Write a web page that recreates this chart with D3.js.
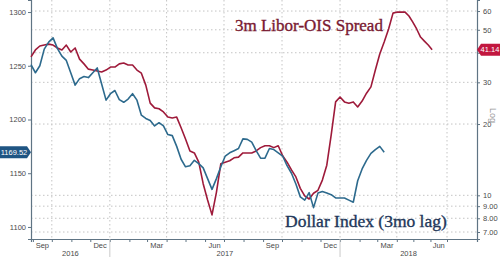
<!DOCTYPE html>
<html>
<head>
<meta charset="utf-8">
<script src="https://cdnjs.cloudflare.com/ajax/libs/d3/7.8.5/d3.min.js"></script>
<style>
    html, body { margin: 0; padding: 0; background: #ffffff; }
    svg { display: block; }
</style>
</head>
<body>
<div id="chart"></div>
<script>
// weekly readings, first week starts 29 Aug 2016
var startDate = new Date(2016, 7, 29);

// Bloomberg dollar index, left axis
var dollarIndex = [
    1251, 1243.5, 1250, 1265.5, 1272, 1276, 1266, 1259, 1255, 1243.5,
    1232, 1238, 1240, 1239, 1243.5, 1248, 1233, 1218, 1224, 1227,
    1218.5, 1216, 1219, 1224, 1218, 1204, 1201, 1199, 1194, 1197,
    1194, 1186, 1185, 1175, 1163, 1156, 1157, 1162, 1159, 1155,
    1145, 1135, 1145, 1156, 1166, 1169, 1171, 1173, 1182, 1181.5,
    1179, 1171, 1164, 1164, 1173, 1172, 1169, 1166, 1157, 1150,
    1140, 1128, 1125, 1132, 1118, 1131.5, 1133, 1131.5, 1130, 1127,
    1127, 1127, 1125, 1123, 1143, 1154, 1162, 1168.5, 1172, 1175,
    1169.52
];

// 3m Libor-OIS spread (bp), right log axis
var liborOis = [
    38.4, 41.1, 42.7, 43.1, 43.5, 43.1, 41.9, 41.1, 43.1, 40.3,
    41.9, 37.6, 35.9, 34.1, 33.8, 33.5, 33.2, 33.8, 34.8, 34.8,
    35.9, 36.2, 35.5, 35.5, 33.8, 32.8, 29.2, 24.5, 23.4, 23.2,
    22.5, 21.4, 21.2, 21.4, 19.3, 17.3, 15.4, 15.1, 13.8, 11.2,
    9.56, 8.27, 10.3, 13.6, 13.8, 14.0, 14.4, 14.5, 15.1, 15.1,
    15.1, 15.4, 15.9, 16.2, 16.2, 15.9, 16.2, 14.7, 13.8, 12.8,
    11.96, 10.7, 9.95, 9.65, 10.2, 10.5, 11.6, 13.4, 18.0, 24.8,
    26.0, 24.8, 24.5, 24.8, 23.6, 25.0, 27.0, 28.7, 33.8, 39.5,
    44.4, 50.4, 58.8, 59.4, 59.4, 59.4, 57.2, 53.9, 50.4, 46.6,
    44.8, 43.1, 41.14
];

var leftTicks = [1100, 1150, 1200, 1250, 1300];
var rightTicks = [7, 8, 9, 10, 20, 30, 40, 50, 60];
var rightTickLabels = ["7.00", "8.00", "9.00", "10", "20", "30", "", "50", "60"];
var monthLabels = ["Sep", "Dec", "Mar", "Jun", "Sep", "Dec", "Mar", "Jun"];
var yearLabels = ["2016", "2017", "2018"];

var width = 500, height = 257;
var plotLeft = 31, plotRight = 477, plotTop = 0, plotBottom = 239;

var redColor = "#9e1a3a",
    blueColor = "#2d6a8d";

var svg = d3.select("#chart")
    .append("svg")
    .attr("width", width)
    .attr("height", height);

// the last quarter of the source chart is squeezed a little
var x = d3.scaleTime()
    .domain([startDate, new Date(2018, 3, 1), new Date(2018, 6, 1), new Date(2018, 7, 25)])
    .range([plotLeft, 396.8, 447, plotRight]);

var yLeft = d3.scaleLinear().domain([1088.8, 1311.2]).range([plotBottom, plotTop]);
var yRight = d3.scaleLog().domain([6.54, 66.8]).range([plotBottom, plotTop]);

function weekDate(i) {
    return d3.timeDay.offset(startDate, i * 7);
}

// grid
var gridMonths = d3.timeMonth.range(new Date(2016, 9, 1), new Date(2018, 7, 1), 3);

svg.append("g")
    .selectAll("line")
    .data(rightTicks)
    .enter().append("line")
    .attr("x1", plotLeft).attr("x2", plotRight)
    .attr("y1", d => yRight(d)).attr("y2", d => yRight(d))
    .attr("stroke", "#c4c4c4")
    .attr("stroke-dasharray", "1.5,2.5");

svg.append("g")
    .selectAll("line")
    .data(gridMonths)
    .enter().append("line")
    .attr("x1", d => x(d)).attr("x2", d => x(d))
    .attr("y1", plotTop).attr("y2", plotBottom)
    .attr("stroke", "#c4c4c4")
    .attr("stroke-dasharray", "1.5,2.5");

// axes
var fontFamily = "Liberation Sans, Arial, sans-serif";

var leftAxis = svg.append("g")
    .attr("transform", "translate(" + plotLeft + ",0)")
    .call(d3.axisLeft(yLeft).tickValues(leftTicks).tickSize(3).tickPadding(2).tickFormat(d3.format("d")));

var rightAxis = svg.append("g")
    .attr("transform", "translate(" + plotRight + ",0)")
    .call(d3.axisRight(yRight).tickValues(rightTicks).tickSize(3).tickPadding(3)
        .tickFormat(function(d) { return rightTickLabels[rightTicks.indexOf(d)]; }));

var monthTicks = d3.timeMonth.range(new Date(2016, 8, 1), new Date(2018, 7, 1));

var bottomAxis = svg.append("g")
    .attr("transform", "translate(0," + plotBottom + ")")
    .call(d3.axisBottom(x).tickValues(monthTicks).tickSize(3).tickFormat(""));

[leftAxis, rightAxis, bottomAxis].forEach(function(g) {
    g.select(".domain").attr("stroke", "#5f7484").attr("stroke-width", 1.2);
    g.selectAll(".tick line").attr("stroke", "#5f7484");
    g.selectAll(".tick text")
        .attr("fill", "#4a4a4a")
        .attr("font-family", fontFamily)
        .attr("font-size", "7.5px");
});

// quarter month names, centred in their month
var labelMonths = d3.timeMonth.range(new Date(2016, 8, 1), new Date(2018, 6, 1), 3);

svg.append("g")
    .selectAll("text")
    .data(labelMonths)
    .enter().append("text")
    .attr("x", d => (x(d) + x(d3.timeMonth.offset(d, 1))) / 2)
    .attr("y", 248)
    .attr("text-anchor", "middle")
    .attr("fill", "#4a4a4a")
    .attr("font-family", fontFamily)
    .attr("font-size", "7.5px")
    .text((d, i) => monthLabels[i]);

// years
var yearStarts = [new Date(2016, 0, 1), new Date(2017, 0, 1), new Date(2018, 0, 1), new Date(2019, 0, 1)];

svg.append("g")
    .selectAll("line")
    .data(yearStarts.slice(1, 3))
    .enter().append("line")
    .attr("x1", d => x(d)).attr("x2", d => x(d))
    .attr("y1", plotBottom).attr("y2", height)
    .attr("stroke", "#c9c9c9");

svg.append("g")
    .selectAll("text")
    .data(yearLabels)
    .enter().append("text")
    .attr("x", function(d, i) {
        var a = Math.max(x(yearStarts[i]), plotLeft),
            b = Math.min(x(yearStarts[i + 1]), plotRight);
        return (a + b) / 2;
    })
    .attr("y", 256)
    .attr("text-anchor", "middle")
    .attr("fill", "#4a4a4a")
    .attr("font-family", fontFamily)
    .attr("font-size", "7.5px")
    .text(d => d);

// lines
var redLine = d3.line()
    .x((d, i) => x(weekDate(i)))
    .y(d => yRight(d));

var blueLine = d3.line()
    .x((d, i) => x(weekDate(i)))
    .y(d => yLeft(d));

svg.append("path")
    .datum(liborOis)
    .attr("d", redLine)
    .attr("fill", "none")
    .attr("stroke", redColor)
    .attr("stroke-width", 1.6)
    .attr("stroke-linejoin", "round");

svg.append("path")
    .datum(dollarIndex)
    .attr("d", blueLine)
    .attr("fill", "none")
    .attr("stroke", blueColor)
    .attr("stroke-width", 1.6)
    .attr("stroke-linejoin", "round");

// last value tags
var lastBlue = dollarIndex[dollarIndex.length - 1],
    lastRed = liborOis[liborOis.length - 1];

var yb = yLeft(lastBlue);
svg.append("path")
    .attr("d", "M0," + (yb - 6) + "H27L31," + yb + "L27," + (yb + 6) + "H0Z")
    .attr("fill", "#1f5583");
svg.append("text")
    .attr("x", 14)
    .attr("y", yb + 2.6)
    .attr("text-anchor", "middle")
    .attr("fill", "#ffffff")
    .attr("font-family", fontFamily)
    .attr("font-size", "7.5px")
    .text(d3.format(".2f")(lastBlue));

var yr = yRight(lastRed);
svg.append("path")
    .attr("d", "M" + plotRight + "," + yr + "L481," + (yr - 6) + "H500V" + (yr + 6) + "H481Z")
    .attr("fill", "#c2173f");
svg.append("text")
    .attr("x", 490)
    .attr("y", yr + 2.6)
    .attr("text-anchor", "middle")
    .attr("fill", "#ffffff")
    .attr("font-family", fontFamily)
    .attr("font-size", "7.5px")
    .text(d3.format(".2f")(lastRed));

// "Log" marker on the right axis
svg.append("text")
    .attr("transform", "translate(490,108) rotate(90)")
    .attr("fill", "#9a9a9a")
    .attr("font-family", fontFamily)
    .attr("font-size", "9px")
    .text("Log");

// series captions
svg.append("text")
    .attr("x", 235)
    .attr("y", 31)
    .attr("fill", "#7a1a32")
    .attr("stroke", "#7a1a32")
    .attr("stroke-width", 0.35)
    .attr("font-family", "Liberation Serif, Times New Roman, serif")
    .attr("font-size", "17px")
    .text("3m Libor-OIS Spread");

svg.append("text")
    .attr("x", 285)
    .attr("y", 227)
    .attr("fill", "#22375a")
    .attr("stroke", "#22375a")
    .attr("stroke-width", 0.35)
    .attr("font-family", "Liberation Serif, Times New Roman, serif")
    .attr("font-size", "17.5px")
    .text("Dollar Index (3mo lag)");
</script>
</body>
</html>
